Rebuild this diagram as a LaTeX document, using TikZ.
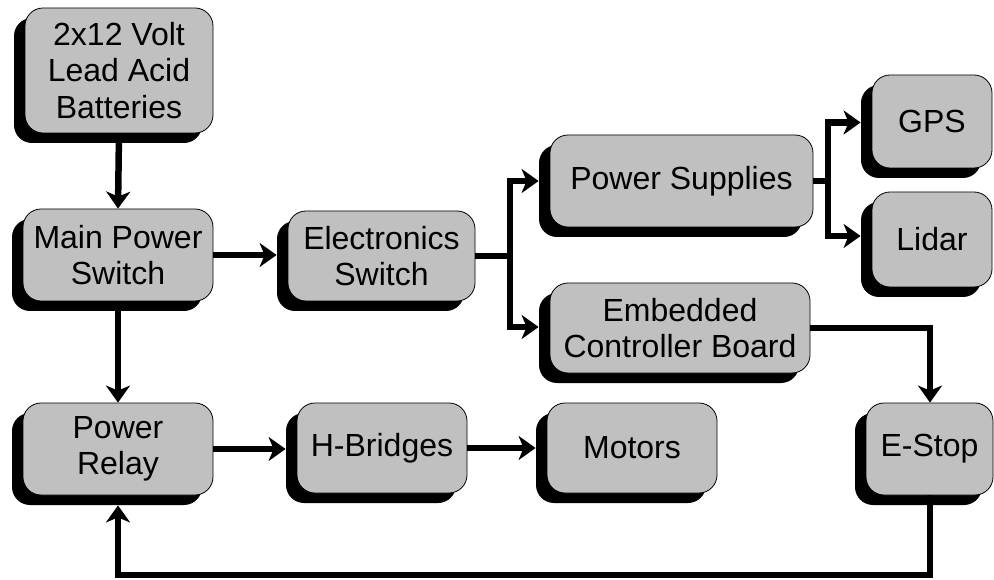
\documentclass[tikz,border=0pt]{standalone}
\usepackage{fontspec}
\setmainfont{Liberation Sans}
\usetikzlibrary{arrows.meta,shadows,calc}

\definecolor{boxgray}{HTML}{C0C0C0}
\tikzset{
  block/.style={
    draw=black, line width=0.8pt, fill=boxgray,
    rounded corners=18pt, inner sep=0pt, align=center,
    font=\fontsize{32}{36.5}\selectfont,
    drop shadow={shadow xshift=-11pt, shadow yshift=-10pt, opacity=1, fill=black}
  },
  wire/.style={line width=6.5pt, line join=miter},
  flow/.style={wire, -{Stealth[length=17pt, width=24pt, inset=5pt]}}
}

\begin{document}
\begin{tikzpicture}[x=1pt, y=-1pt]
  \useasboundingbox (0,0) rectangle (994,580);

  % blocks
  \node[block, minimum width=188pt, minimum height=125pt] (bat) at (119,70.5)
    {2x12 Volt\\Lead Acid\\Batteries};
  \node[block, minimum width=190pt, minimum height=92pt] (mps) at (118,255)
    {Main Power\\Switch};
  \node[block, minimum width=190pt, minimum height=92pt] (relay) at (118,449)
    {Power\\Relay};
  \node[block, minimum width=187pt, minimum height=90pt] (esw) at (381.5,256)
    {Electronics\\Switch};
  \node[block, minimum width=170pt, minimum height=90pt] (hbr) at (382,448)
    {H-Bridges};
  \node[block, minimum width=170pt, minimum height=90pt] (mot) at (632,448)
    {Motors};
  \node[block, minimum width=263pt, minimum height=92pt] (ps) at (681.5,181)
    {Power Supplies};
  \node[block, minimum width=260pt, minimum height=90pt] (ecb) at (680,328)
    {Embedded\\Controller Board};
  \node[block, minimum width=120pt, minimum height=93pt] (gps) at (932,121.5)
    {GPS};
  \node[block, minimum width=120pt, minimum height=95pt] (lidar) at (932,239.5)
    {Lidar};
  \node[block, minimum width=127pt, minimum height=92pt] (estop) at (929.5,449)
    {E-Stop};

  % branch points
  \coordinate (j1) at (510,256);
  \coordinate (j2) at (828,181);
  \coordinate (loopR) at (930,575);
  \coordinate (loopL) at (118,575);

  % power path
  \draw[flow] (bat.south) -- (mps.north);
  \draw[flow] (mps.east) -- ([xshift=-11pt]mps.east -| esw.west);
  \draw[flow] (mps.south) -- (relay.north);
  \draw[flow] (relay.east) -- ([xshift=-11pt]relay.east -| hbr.west);
  \draw[flow] (hbr.east) -- ([xshift=-11pt]mot.west);

  % electronics branch
  \draw[wire] (esw.east) -- (j1);
  \draw[flow] (j1) |- ([xshift=-11pt]ps.west);
  \draw[flow] (j1) |- ([xshift=-11pt,yshift=1pt]ecb.west);
  \draw[wire] (ps.east) -- (j2);
  \draw[flow] (j2) |- ([xshift=-11pt,yshift=-1pt]gps.west);
  \draw[flow] (j2) |- ([xshift=-11pt,yshift=3.5pt]lidar.west);

  % emergency stop loop
  \draw[flow] (ecb.east) -| ([xshift=0.5pt]estop.north);
  \draw[flow] ([xshift=0.5pt]estop.south) -- (loopR) -- (loopL)
    -- ([yshift=-10pt]relay.south);
\end{tikzpicture}
\end{document}
